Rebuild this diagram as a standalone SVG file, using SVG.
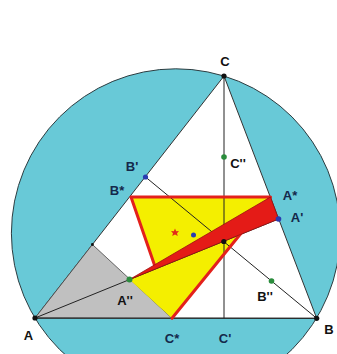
<svg xmlns="http://www.w3.org/2000/svg" width="337" height="354" viewBox="0 0 337 354">
<style>
.lbl{font-family:"Liberation Sans",Arial,sans-serif;font-size:13px;font-weight:bold;fill:#111;text-anchor:middle}
.nv{fill:#14284a}
.thin{stroke:#222;stroke-width:1;fill:none}
.red{stroke:#e3211c;stroke-width:3;fill:none;stroke-linejoin:round;stroke-linecap:round}
.blk{fill:#111}
.grn{fill:#2a8c3c}
.blu{fill:#2a3bb0}
</style>
<rect width="337" height="354" fill="#fff"/>
<g id="circle">
<circle cx="175.8" cy="233.2" r="164.4" fill="#68c9d7" stroke="#2c3c40" stroke-width="1"/>
</g>
<g id="triangle-ABC">
<polygon points="35,318 316.7,318.3 224,76" fill="#fff" stroke="#333" stroke-width="1"/>
</g>
<g id="gray-triangle">
<polygon points="35,318 92.4,244.5 172,318.3" fill="#c0c0c0" stroke="#444" stroke-width="0.8"/>
</g>
<g id="yellow-triangle">
<polygon points="131,197 270.5,197 172,318.3 129.5,279.5 155,266.5" fill="#f4ef00"/>
</g>
<g id="connectors">
<line class="thin" x1="224" y1="76" x2="224" y2="318.2"/>
<line class="thin" x1="145.5" y1="177" x2="316.7" y2="318.3"/>
<line class="thin" x1="35" y1="318" x2="278.5" y2="219"/>
<line class="thin" x1="35" y1="318" x2="316.7" y2="318.3"/>
</g>
<g id="red-border">
<polyline class="red" points="155,266.5 131,197 270.5,197 172,318.3"/>
</g>
<g id="wedge">
<polygon points="129.5,279.5 270.5,197 278.5,219" fill="#e41b17" stroke="#9a1010" stroke-width="0.8" stroke-linejoin="round"/>
</g>
<g id="points">
<circle class="blk" cx="35" cy="318" r="2.6"/>
<circle class="blk" cx="316.7" cy="318.3" r="2.6"/>
<circle class="blk" cx="224" cy="76" r="2.6"/>
<circle class="blk" cx="223.8" cy="241.5" r="2.6"/>
<circle class="blk" cx="92.4" cy="244.5" r="1.4"/>
<circle class="grn" cx="224" cy="157" r="2.8"/>
<circle class="grn" cx="129.5" cy="279.5" r="3"/>
<circle class="grn" cx="271.5" cy="281" r="2.8"/>
<circle class="blu" cx="145.5" cy="177" r="2.6"/>
<circle class="blu" cx="278.5" cy="219" r="2.8"/>
<circle class="blu" cx="193.5" cy="235" r="2.5"/>
<path d="M175,228.5 L176.2,231.2 L179,231 L177,233.2 L177.8,236 L175,234.6 L172.2,236 L173,233.2 L171,231 L173.8,231.2 Z" fill="#e32a1a"/>
</g>
<g id="labels">
<text class="lbl" x="225" y="66">C</text>
<text class="lbl nv" x="132" y="171">B'</text>
<text class="lbl nv" x="117" y="194.5">B*</text>
<text class="lbl" x="238" y="167.5">C''</text>
<text class="lbl nv" x="290" y="199.5">A*</text>
<text class="lbl nv" x="297" y="222">A'</text>
<text class="lbl" x="125" y="304.5">A''</text>
<text class="lbl" x="265" y="301">B''</text>
<text class="lbl" x="28.5" y="339.5">A</text>
<text class="lbl" x="329" y="334">B</text>
<text class="lbl nv" x="225" y="343">C'</text>
<text class="lbl nv" x="172" y="343">C*</text>
</g>
</svg>
